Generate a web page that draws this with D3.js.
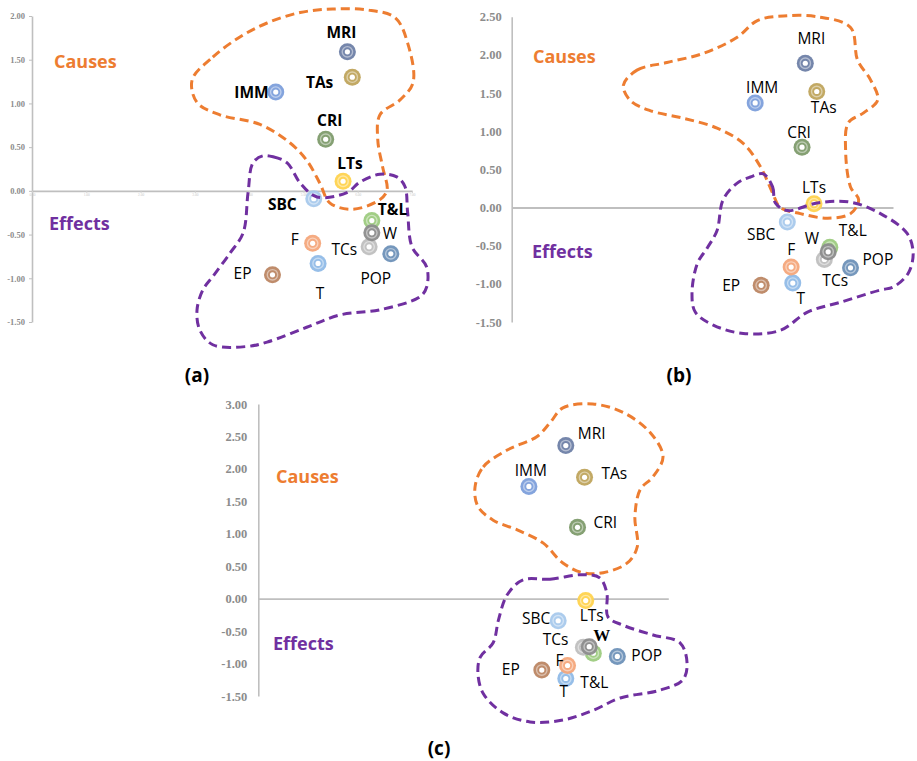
<!DOCTYPE html>
<html>
<head>
<meta charset="utf-8">
<script src="https://cdn.jsdelivr.net/npm/d3@7"></script>
<style>
  body { margin: 0; background: #fff; }
  svg { display: block; }
</style>
</head>
<body>
<svg id="chart" width="917" height="761"></svg>
<script>
// factors, same order in every panel
const labels = ["MRI", "TAs", "IMM", "CRI", "LTs", "SBC", "T&L", "TCs", "W", "POP", "T", "F", "EP"];
const colors = ["#6e7fa6", "#bfa45c", "#7d9fdb", "#7e9b6c", "#ffd34e", "#a8c9ec", "#9dcb80",
                "#bfbfbf", "#8c8c8c", "#6e91b8", "#90bbe7", "#f4a77b", "#bc8663"];

// panel (a)
const aX = [5.81, 5.90, 4.49, 5.41, 5.73, 5.19, 6.26, 6.21, 6.26, 6.61, 5.27, 5.17, 4.43];
const aY = [1.59, 1.30, 1.13, 0.59, 0.11, -0.09, -0.34, -0.64, -0.48, -0.72, -0.83, -0.60, -0.96];
// panel (b)
const bX = [5.39, 5.60, 4.47, 5.33, 5.55, 5.06, 5.84, 5.74, 5.81, 6.22, 5.16, 5.13, 4.58];
const bY = [1.89, 1.52, 1.37, 0.79, 0.05, -0.19, -0.52, -0.68, -0.58, -0.79, -0.99, -0.78, -1.02];
// panel (c)
const cX = [5.25, 5.57, 4.62, 5.45, 5.59, 5.12, 5.72, 5.55, 5.65, 6.13, 5.25, 5.28, 4.84];
const cY = [2.36, 1.87, 1.73, 1.10, -0.03, -0.34, -0.84, -0.75, -0.74, -0.89, -1.23, -1.03, -1.10];

const aTicks = [-1.5, -1, -0.5, 0, 0.5, 1, 1.5, 2];
const bTicks = [-1.5, -1, -0.5, 0, 0.5, 1, 1.5, 2, 2.5];
const cTicks = [-1.5, -1, -0.5, 0, 0.5, 1, 1.5, 2, 2.5, 3];

// hand drawn group outlines, in data units
const aCauses = [[2.95,1.27],[3.33,1.53],[3.83,1.76],[4.33,1.92],[4.94,2.04],[5.54,2.08],[6.17,2.07],[6.69,1.98],
  [6.92,1.69],[7.02,1.24],[6.78,1.04],[6.41,0.87],[6.37,0.58],[6.46,0.27],[6.54,0.01],[6.41,-0.10],[5.91,-0.21],
  [5.49,-0.14],[5.30,0.09],[5.06,0.35],[4.75,0.55],[4.20,0.76],[3.46,0.87],[3.04,1.01]];
const aEffects = [[4.25,0.40],[4.44,0.39],[4.70,0.32],[4.94,0.09],[5.25,-0.07],[5.80,-0.02],[6.04,0.10],[6.41,0.19],
  [6.72,0.16],[6.87,0.05],[6.92,-0.25],[7.00,-0.64],[7.27,-0.87],[7.27,-1.10],[7.15,-1.21],[6.41,-1.36],[5.67,-1.42],
  [5.06,-1.56],[4.33,-1.73],[3.96,-1.78],[3.33,-1.76],[3.09,-1.59],[3.04,-1.36],[3.15,-1.13],[3.33,-0.98],
  [3.65,-0.71],[3.89,-0.48],[3.98,-0.02],[4.07,0.32]];
const bCauses = [[2.05,1.60],[2.30,1.80],[2.85,1.90],[3.52,2.02],[4.14,2.23],[4.51,2.45],[4.99,2.51],[5.61,2.50],
  [6.22,2.36],[6.35,1.93],[6.59,1.67],[6.72,1.41],[6.46,1.24],[6.18,1.11],[6.13,0.75],[6.22,0.27],[6.37,0.10],
  [6.22,-0.08],[5.80,-0.14],[5.30,-0.08],[4.93,0.00],[4.79,0.19],[4.57,0.53],[4.25,0.84],[3.77,1.04],[3.15,1.17],
  [2.54,1.27],[2.18,1.40]];
const bEffects = [[4.62,0.44],[4.79,0.27],[4.84,0.06],[5.06,-0.04],[5.61,0.06],[6.22,0.07],[6.77,-0.08],[7.26,-0.34],
  [7.37,-0.60],[7.28,-0.86],[7.01,-1.04],[6.77,-1.08],[6.04,-1.24],[5.43,-1.37],[4.93,-1.61],[4.25,-1.65],
  [3.70,-1.54],[3.37,-1.37],[3.31,-1.12],[3.41,-0.73],[3.59,-0.53],[3.77,-0.30],[3.88,0.10],[4.14,0.32],[4.38,0.40]];
const cCauses = [[3.70,1.72],[3.84,2.03],[4.25,2.29],[4.76,2.50],[4.98,2.71],[5.20,2.94],[5.71,3.00],[6.23,2.87],
  [6.69,2.56],[6.91,2.19],[6.74,1.88],[6.52,1.68],[6.43,1.26],[6.47,0.80],[6.30,0.55],[5.89,0.40],[5.54,0.40],
  [5.20,0.55],[4.86,0.86],[4.42,1.06],[4.01,1.21],[3.75,1.42]];
const cEffects = [[4.52,0.29],[4.98,0.30],[5.54,0.37],[5.83,0.32],[5.95,0.09],[5.97,-0.28],[6.23,-0.41],[6.74,-0.56],
  [7.20,-0.68],[7.32,-0.99],[7.25,-1.25],[6.86,-1.41],[6.18,-1.53],[5.72,-1.72],[5.20,-1.87],[4.64,-1.90],
  [4.18,-1.76],[3.84,-1.46],[3.75,-1.15],[3.79,-0.90],[4.01,-0.68],[4.10,-0.33],[4.25,0.06]];

// label placement per panel: [dx, dy, anchor]
const aLabelPos = [[-6,-19,"middle"],[-19,5,"end"],[-7,0,"end"],[4,-19,"middle"],[7,-18,"middle"],[-17,6,"end"],
  [6,-11,"start"],[-12,3,"end"],[11,1,"start"],[-15,25,"middle"],[2,30,"middle"],[-14,-4,"end"],[-21,-1,"end"]];
const aBold = ["MRI", "TAs", "IMM", "CRI", "LTs", "SBC", "T&L"];
const bLabelPos = [[6,-25,"middle"],[7,16,"middle"],[7,-16,"middle"],[-3,-15,"middle"],[0,-16,"middle"],[-12,12,"end"],
  [9,-17,"start"],[-2,21,"start"],[-9,-13,"end"],[12,-8,"start"],[8,15,"middle"],[0,-18,"middle"],[-21,0,"end"]];
const cLabelPos = [[12,-12,"start"],[17,-4,"start"],[2,-16,"middle"],[16,-5,"start"],[6,15,"middle"],[-8,-2,"end"],
  [1,29,"middle"],[-15,-8,"end"],[4,-12,"start"],[14,-1,"start"],[-2,13,"middle"],[-8,-5,"middle"],[-22,-1,"end"]];

const svg = d3.select("#chart");
const labelFont = "'Open Sans', sans-serif";
const causeColor = "#ed7d31";
const effectColor = "#7030a0";

function drawPanel(p) {
    const g = svg.append("g");

    const x = d3.scaleLinear().domain([0, 7]).range(p.xRange);
    const y = d3.scaleLinear().domain([-1.5, p.yMax]).range(p.yRange);

    // y axis
    const yAxis = g.append("g")
        .attr("transform", `translate(${p.xRange[0]},0)`)
        .call(d3.axisLeft(y).tickValues(p.ticks).tickFormat(d => d.toFixed(2))
            .tickSize(p.tickSize).tickSizeOuter(0).tickPadding(p.tickPad));
    yAxis.select(".domain").attr("stroke", "#bfbfbf").attr("stroke-width", 1.6);
    yAxis.selectAll(".tick line").attr("stroke", "#bfbfbf");
    yAxis.selectAll(".tick text")
        .attr("fill", "#8c8c8c")
        .attr("font-family", "'Liberation Serif', 'Times New Roman', serif")
        .attr("font-weight", "bold")
        .attr("font-size", p.tickFont);

    // x axis along zero
    const xAxis = g.append("g")
        .attr("transform", `translate(0,${y(0)})`)
        .call(d3.axisBottom(x).ticks(7).tickFormat(d => d.toFixed(2))
            .tickSize(p.xTicks ? 2 : 0).tickSizeOuter(0).tickPadding(1));
    xAxis.select(".domain").attr("stroke", "#bfbfbf").attr("stroke-width", 1.8);
    xAxis.selectAll(".tick line").attr("stroke", "#cfcfcf");
    xAxis.selectAll(".tick text")
        .attr("fill", p.xTicks ? "#c8c8c8" : "none")
        .attr("font-size", 3.5)
        .attr("font-family", "serif");

    // doughnut markers
    const idx = d3.range(labels.length);
    const marks = g.append("g").selectAll("g")
        .data(idx)
        .join("g")
        .attr("transform", i => `translate(${x(p.xs[i])},${y(p.ys[i])})`);
    marks.append("circle").attr("r", 8.5).attr("fill", i => colors[i]).attr("opacity", 0.95);
    marks.append("circle").attr("r", 5.2).attr("fill", "none")
        .attr("stroke", "#fff").attr("stroke-opacity", 0.45).attr("stroke-width", 1.4);
    marks.append("circle").attr("r", 2.6).attr("fill", "#fff");

    // group outlines
    const outline = d3.line()
        .x(d => x(d[0]))
        .y(d => y(d[1]))
        .curve(d3.curveCatmullRomClosed.alpha(0.5));
    [[p.causes, causeColor], [p.effects, effectColor]].forEach(([pts, col]) => {
        g.append("path")
            .attr("d", outline(pts))
            .attr("fill", "none")
            .attr("stroke", col)
            .attr("stroke-width", 3)
            .attr("stroke-dasharray", "9,5");
    });

    // point labels
    g.append("g").selectAll("text")
        .data(idx)
        .join("text")
        .attr("x", i => x(p.xs[i]) + p.labelPos[i][0])
        .attr("y", i => y(p.ys[i]) + p.labelPos[i][1])
        .attr("dy", "0.36em")
        .attr("text-anchor", i => p.labelPos[i][2])
        .attr("font-family", i => (p.serifW && labels[i] === "W") ? "'Liberation Serif', serif" : labelFont)
        .attr("font-weight", i => (p.bold.includes(labels[i]) || (p.serifW && labels[i] === "W")) ? "bold" : "normal")
        .attr("font-size", i => (p.serifW && labels[i] === "W") ? 17 : 15.5)
        .attr("fill", "#000")
        .text(i => labels[i]);

    // group names
    g.append("text")
        .attr("x", p.causesAt[0]).attr("y", p.causesAt[1]).attr("dy", "0.36em")
        .attr("font-family", labelFont).attr("font-weight", "bold").attr("font-size", 18)
        .attr("fill", causeColor).text("Causes");
    g.append("text")
        .attr("x", p.effectsAt[0]).attr("y", p.effectsAt[1]).attr("dy", "0.36em")
        .attr("font-family", labelFont).attr("font-weight", "bold").attr("font-size", 18)
        .attr("fill", effectColor).text("Effects");

    // panel letter
    g.append("text")
        .attr("x", p.nameAt[0]).attr("y", p.nameAt[1]).attr("dy", "0.36em")
        .attr("text-anchor", "middle")
        .attr("font-family", labelFont).attr("font-weight", "bold").attr("font-size", 19)
        .attr("fill", "#000").text(p.name);
}

drawPanel({
    name: "(a)", nameAt: [197, 375],
    xRange: [32, 412], yRange: [322, 16], yMax: 2, ticks: aTicks,
    tickSize: 3, tickPad: 4, tickFont: 8.5, xTicks: true,
    xs: aX, ys: aY, labelPos: aLabelPos, bold: aBold,
    causes: aCauses, effects: aEffects,
    causesAt: [54, 62], effectsAt: [49, 224]
});
drawPanel({
    name: "(b)", nameAt: [679, 375],
    xRange: [511.7, 893], yRange: [322, 16.7], yMax: 2.5, ticks: bTicks,
    tickSize: 0, tickPad: 10, tickFont: 12.5, xTicks: false,
    xs: bX, ys: bY, labelPos: bLabelPos, bold: [],
    causes: bCauses, effects: bEffects,
    causesAt: [533, 57], effectsAt: [532, 252]
});
drawPanel({
    name: "(c)", nameAt: [439, 748],
    xRange: [258.3, 668.3], yRange: [696, 404], yMax: 3, ticks: cTicks,
    tickSize: 0, tickPad: 11, tickFont: 12.5, xTicks: false, serifW: true,
    xs: cX, ys: cY, labelPos: cLabelPos, bold: [],
    causes: cCauses, effects: cEffects,
    causesAt: [276, 477], effectsAt: [273, 644]
});
</script>
</body>
</html>
